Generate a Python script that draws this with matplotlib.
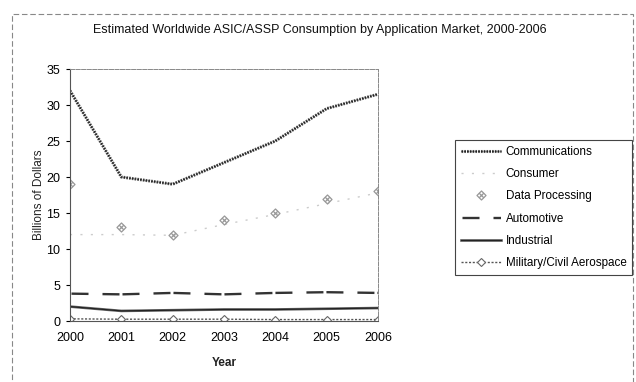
import matplotlib
matplotlib.use("Agg")
import matplotlib.pyplot as plt
import matplotlib.patheffects as pe
from matplotlib.path import Path
from matplotlib.patches import Rectangle

plt.rcParams['font.family'] = ['Liberation Sans', 'DejaVu Sans']
plt.rcParams['lines.scale_dashes'] = False

years = [2000, 2001, 2002, 2003, 2004, 2005, 2006]
communications = [32, 20, 19, 22, 25, 29.5, 31.5]
consumer = [12, 12, 11.9, 13.4, 14.8, 16.3, 17.8]
data_processing = [19, 13, 12, 14, 15, 17, 18]
automotive = [3.8, 3.7, 3.9, 3.7, 3.9, 4.0, 3.9]
industrial = [2.0, 1.4, 1.5, 1.6, 1.6, 1.7, 1.8]
military = [0.3, 0.25, 0.25, 0.25, 0.2, 0.2, 0.2]
y_ticks = [0, 5, 10, 15, 20, 25, 30, 35]

W, H = 636, 382
fig = plt.figure(figsize=(W / 100, H / 100), dpi=100)
ax = fig.add_axes([70 / W, 1 - 321 / H, (378 - 70) / W, (321 - 69) / H])

# diamond with a cross inside, used for the Data Processing points
dp_marker = Path(
    [(0, 1), (1, 0), (0, -1), (-1, 0), (0, 1),
     (-0.5, 0.5), (0.5, -0.5), (0.5, 0.5), (-0.5, -0.5)],
    [Path.MOVETO, Path.LINETO, Path.LINETO, Path.LINETO, Path.CLOSEPOLY,
     Path.MOVETO, Path.LINETO, Path.MOVETO, Path.LINETO])

px = 0.72  # points per pixel at 100 dpi

l_comm, = ax.plot(years, communications, color='#222222', lw=0.9,
                  linestyle=(0, (1.2, 0.8)),
                  path_effects=[pe.Stroke(linewidth=2.2, foreground='#555555'), pe.Normal()],
                  label='Communications')
l_cons, = ax.plot(years, consumer, color='#cccccc', lw=1.0,
                  linestyle=(0, (1.5, 6)), label='Consumer')
l_dp, = ax.plot(years, data_processing, linestyle='none', marker=dp_marker,
                markersize=6.5, markerfacecolor='none', markeredgecolor='#999999',
                markeredgewidth=0.9, label='Data Processing')
l_auto, = ax.plot(years, automotive, color='#333333', lw=1.7,
                  linestyle=(18.5 * px, (17 * px, 3 * px, 17 * px, 14 * px)),
                  label='Automotive')
l_ind, = ax.plot(years, industrial, color='#222222', lw=0.9,
                 path_effects=[pe.Stroke(linewidth=1.9, foreground='#666666'), pe.Normal()],
                 label='Industrial')
l_mil, = ax.plot(years, military, color='#555555', lw=1.0, linestyle=(0, (1.5, 1.2)),
                 marker='D', markersize=4, markerfacecolor='white',
                 markeredgecolor='#666666', markeredgewidth=0.8,
                 label='Military/Civil Aerospace')

ax.set_xlim(2000, 2006)
ax.set_ylim(0, 35)
ax.set_xticks(years)
ax.set_xticklabels([str(y) for y in years])
ax.set_yticks(y_ticks)
ax.tick_params(axis='x', length=0, pad=8, labelsize=9)
ax.tick_params(axis='y', length=3, width=0.8, direction='out', pad=4, labelsize=9)
for side in ('top', 'right'):
    ax.spines[side].set_color('#888888')
    ax.spines[side].set_linewidth(0.7)
    ax.spines[side].set_linestyle((0, (3, 1)))
for side in ('left', 'bottom'):
    ax.spines[side].set_color('#555555')
    ax.spines[side].set_linewidth(0.8)

ax.set_xlabel('Year', fontsize=8.5, fontweight='bold', labelpad=9, color='#222222')
ax.set_ylabel('Billions of Dollars', fontsize=8.5, labelpad=1, color='#222222')

fig.text(320 / W, 1 - 30 / H,
         'Estimated Worldwide ASIC/ASSP Consumption by Application Market, 2000-2006',
         ha='center', va='center', fontsize=9, color='#111111')

leg = fig.legend(handles=[l_comm, l_cons, l_dp, l_auto, l_ind, l_mil],
                 loc='upper left', bbox_to_anchor=(455 / W, 1 - 140 / H),
                 borderaxespad=0, fontsize=8.4, handlelength=3.4, handletextpad=0.45,
                 labelspacing=0.88, borderpad=0.5, fancybox=False, framealpha=1)
leg.get_frame().set_edgecolor('#444444')
leg.get_frame().set_linewidth(0.8)

# dashed outer frame around the whole chart
fig.patches.append(Rectangle((12 / W, -0.05), (633 - 12) / W, 1 - 14 / H + 0.05,
                             transform=fig.transFigure, fill=False,
                             edgecolor='#888888', lw=0.8, linestyle=(0, (4, 2))))

fig.savefig('out.png', dpi=100)
